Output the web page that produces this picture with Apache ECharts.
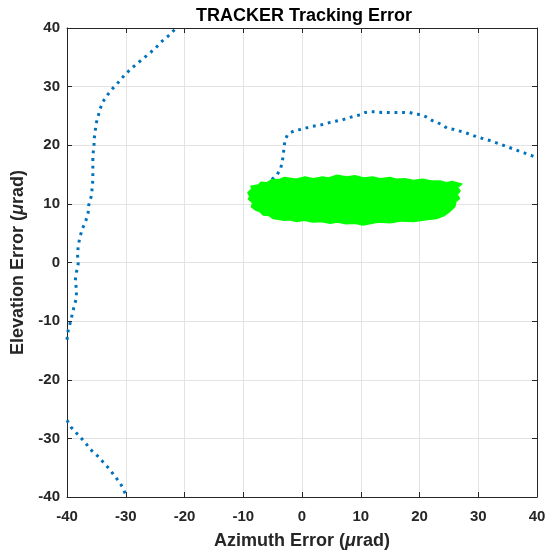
<!DOCTYPE html>
<html>
<head>
<meta charset="utf-8">
<script src="https://cdn.jsdelivr.net/npm/echarts@6/dist/echarts.min.js"></script>
<style>
  html, body { margin: 0; padding: 0; background: #fff; }
  #chart { width: 552px; height: 552px; }
</style>
</head>
<body>
<div id="chart"></div>
<script>
// 轴刻度
var xTicks = [-40, -30, -20, -10, 0, 10, 20, 30, 40];
var yTicks = [-40, -30, -20, -10, 0, 10, 20, 30, 40];

// 左上方轨迹（从上方进入，贴左边界离开）
var trackLeft = [
  [-21.7, 39.7], [-22.8, 38.6], [-24.0, 37.6], [-25.0, 36.5], [-26.3, 35.4],
  [-27.5, 34.4], [-28.8, 33.3], [-30.1, 32.1], [-31.2, 30.8], [-32.3, 29.6],
  [-33.1, 28.6], [-33.9, 27.4], [-34.4, 26.1], [-34.7, 24.9], [-35.1, 23.5],
  [-35.2, 22.3], [-35.4, 21.0], [-35.4, 19.8], [-35.6, 18.3], [-35.6, 16.9],
  [-35.6, 15.5], [-35.6, 14.2], [-35.7, 12.8], [-35.9, 11.2], [-36.3, 9.8],
  [-36.4, 8.5], [-36.8, 7.1], [-37.4, 5.7], [-37.8, 4.3], [-38.1, 2.8],
  [-38.2, 1.3], [-38.1, -0.3], [-38.4, -1.7], [-38.6, -3.1], [-38.4, -4.5],
  [-38.4, -6.1], [-38.8, -7.5], [-39.1, -8.8], [-39.4, -10.1], [-39.8, -11.6],
  [-40.0, -13.2]
];

// 左下方轨迹
var trackBottom = [
  [-40.0, -26.9], [-39.3, -28.1], [-38.2, -29.3], [-37.0, -30.6], [-36.0, -31.9],
  [-34.8, -33.0], [-33.8, -34.1], [-32.8, -35.2], [-31.9, -36.4], [-31.2, -37.3],
  [-30.5, -38.4], [-30.0, -39.6]
];

// 中部轨迹（从绿色区域出发向右）
var trackMid = [
  [-6.0, 13.2], [-5.2, 14.1], [-4.3, 14.9], [-3.7, 15.8], [-3.35, 17.2],
  [-3.2, 18.3], [-3.06, 19.5], [-2.9, 20.9], [-2.5, 21.7], [-1.9, 22.2],
  [-1.2, 22.5], [-0.3, 22.7], [0.5, 22.9], [1.65, 23.2], [2.8, 23.4],
  [3.8, 23.6], [4.8, 23.9], [5.7, 24.1], [6.8, 24.3], [7.6, 24.6],
  [8.7, 24.9], [9.9, 25.2], [10.8, 25.6], [11.6, 25.7], [12.5, 25.7],
  [13.6, 25.6], [14.5, 25.6], [15.6, 25.6], [16.5, 25.6], [17.4, 25.6],
  [18.3, 25.6], [19.4, 25.3], [20.4, 25.2], [21.2, 24.8], [22.2, 24.2],
  [22.8, 24.0], [23.8, 23.5], [24.7, 22.9], [25.9, 22.7], [26.9, 22.4],
  [28.2, 22.0], [29.3, 21.6], [30.6, 21.2], [32.0, 20.8], [33.4, 20.3],
  [34.8, 19.8], [36.4, 19.2], [37.8, 18.7], [39.2, 18.2], [40.0, 17.9]
];

// 绿色误差点云的外轮廓（边缘略带毛刺）
var cloudOutline = [
  [-9.2, 11.9], [-8.5, 12.6], [-8.7, 13.0], [-7.4, 13.2], [-7.0, 13.7],
  [-6.0, 13.6], [-5.2, 14.1], [-3.7, 14.2], [-3.0, 14.5], [-1.0, 14.2],
  [0.5, 14.6], [1.9, 14.3], [3.5, 14.6], [4.5, 14.4], [6.0, 14.9],
  [7.6, 14.6], [9.0, 14.8], [10.5, 14.4], [12.0, 14.6], [13.3, 14.3],
  [15.0, 14.5], [16.0, 14.2], [17.5, 14.3], [19.0, 14.0], [20.5, 14.2],
  [22.0, 13.9], [23.5, 13.9], [24.6, 13.6], [25.5, 13.8], [27.2, 13.4],
  [26.5, 12.8], [26.9, 12.2], [26.4, 11.6], [26.8, 10.9], [26.2, 10.4],
  [26.0, 9.5], [25.0, 8.6], [24.2, 8.0], [22.9, 7.5], [21.0, 7.3],
  [19.0, 7.0], [17.0, 7.1], [15.0, 6.8], [13.0, 6.9], [10.4, 6.4],
  [9.0, 6.7], [7.5, 6.6], [6.0, 6.9], [4.8, 6.7], [3.2, 7.0],
  [1.8, 6.9], [0.4, 7.2], [-0.9, 7.0], [-2.0, 7.3], [-3.0, 7.2],
  [-4.9, 7.5], [-5.6, 8.0], [-6.6, 8.1], [-7.2, 8.7], [-7.8, 8.9],
  [-8.6, 9.5], [-8.4, 10.2], [-9.1, 10.8], [-8.9, 11.3]
];

var BLUE = '#0072BD';
var GREEN = '#00FF00';
var AXIS = '#262626';
var FONT = 'Liberation Sans';

function trackSeries(data) {
  return {
    type: 'line',
    data: data,
    showSymbol: false,
    symbol: 'none',
    silent: true,
    z: 3,
    lineStyle: { color: BLUE, width: 3, type: [2.8, 4.8], cap: 'butt' }
  };
}

var chart = echarts.init(document.getElementById('chart'), null, { renderer: 'canvas' });

var baseAxis = {
  type: 'value',
  min: -40,
  max: 40,
  interval: 10,
  axisLine: { show: true, onZero: false, lineStyle: { color: AXIS, width: 1 } },
  axisTick: { show: true, inside: true, length: 5, lineStyle: { color: AXIS } },
  splitLine: { show: false }
};

var nameRich = {
  a: { fontFamily: FONT, fontSize: 18, fontWeight: 'bold', color: AXIS },
  b: { fontFamily: FONT, fontSize: 18, fontWeight: 'bold', fontStyle: 'italic', color: AXIS }
};

chart.setOption({
  backgroundColor: '#fff',
  animation: false,
  title: {
    text: 'TRACKER Tracking Error',
    left: 299,
    textAlign: 'center',
    top: 2,
    textStyle: { fontFamily: FONT, fontSize: 18, fontWeight: 'bold', color: '#000' }
  },
  grid: { left: 67, right: 15, top: 28, bottom: 55, outerBoundsMode: 'none', containLabel: false },
  xAxis: [
    Object.assign({}, baseAxis, {
      position: 'bottom',
      name: '{a|Azimuth Error (}{b|μ}{a|rad)}',
      nameLocation: 'middle',
      nameGap: 35,
      nameTextStyle: { rich: nameRich },
      axisLabel: {
        margin: 12, fontFamily: FONT, fontSize: 15, fontWeight: 'bold', color: AXIS,
        formatter: function (v) { return xTicks.indexOf(v) >= 0 ? String(v) : ''; }
      },
      splitLine: { show: true, lineStyle: { color: '#e3e3e3', width: 1 } }
    }),
    Object.assign({}, baseAxis, { position: 'top', axisLabel: { show: false } })
  ],
  yAxis: [
    Object.assign({}, baseAxis, {
      position: 'left',
      name: '{a|Elevation Error (}{b|μ}{a|rad)}',
      nameLocation: 'middle',
      nameGap: 37,
      nameTextStyle: { rich: nameRich },
      axisLabel: {
        margin: 7, fontFamily: FONT, fontSize: 15, fontWeight: 'bold', color: AXIS,
        formatter: function (v) { return yTicks.indexOf(v) >= 0 ? String(v) : ''; }
      },
      splitLine: { show: true, lineStyle: { color: '#e3e3e3', width: 1 } }
    }),
    Object.assign({}, baseAxis, { position: 'right', axisLabel: { show: false } })
  ],
  series: [
    trackSeries(trackLeft),
    trackSeries(trackBottom),
    trackSeries(trackMid),
    {
      type: 'custom',
      silent: true,
      z: 4,
      renderItem: function (params, api) {
        var pts = cloudOutline.map(function (p) { return api.coord(p); });
        return {
          type: 'polygon',
          shape: { points: pts },
          style: { fill: GREEN, stroke: GREEN, lineWidth: 1.5, lineJoin: 'round' }
        };
      },
      data: [0]
    }
  ]
});
</script>
</body>
</html>
